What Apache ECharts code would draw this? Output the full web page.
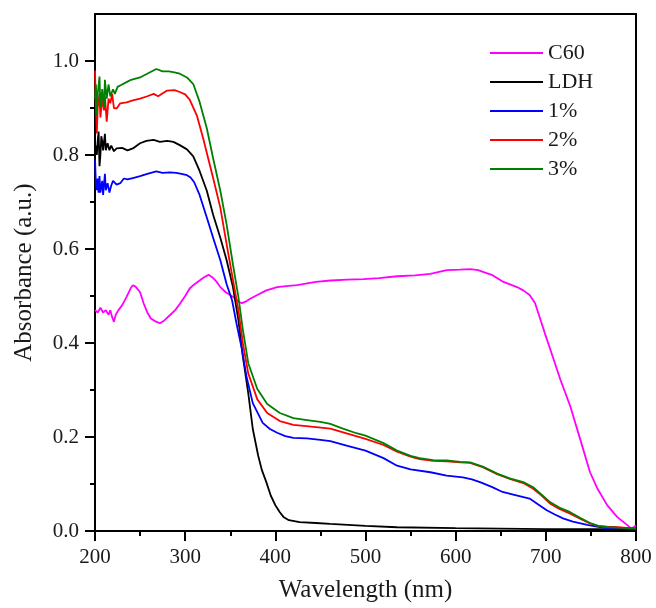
<!DOCTYPE html>
<html>
<head>
<meta charset="utf-8">
<script src="https://cdn.jsdelivr.net/npm/echarts@6/dist/echarts.min.js"></script>
<style>
  html, body { margin: 0; padding: 0; background: #fff; }
  #chart { width: 656px; height: 608px; }
</style>
</head>
<body>
<div id="chart"></div>
<script>
// UV-Vis absorbance spectra: [wavelength (nm), absorbance (a.u.)]
const c60 = [[200,0.47],[203,0.465],[206,0.475],[209,0.465],[212,0.47],[215,0.46],[217,0.47],[219,0.455],[221,0.445],[223,0.46],[226,0.47],[230,0.48],[235,0.498],[240,0.518],[242,0.523],[245,0.52],[250,0.508],[254,0.484],[258,0.465],[262,0.452],[267,0.446],[272,0.442],[277,0.448],[283,0.459],[289,0.47],[294,0.483],[300,0.5],[305,0.516],[309,0.523],[316,0.533],[321,0.54],[326,0.545],[330,0.54],[335,0.53],[339,0.519],[345,0.508],[350,0.502],[356,0.494],[360,0.487],[363,0.485],[367,0.488],[372,0.494],[380,0.502],[390,0.512],[402,0.519],[412,0.521],[424,0.523],[445,0.53],[461,0.533],[480,0.535],[498,0.536],[515,0.538],[535,0.542],[555,0.544],[572,0.547],[590,0.555],[605,0.556],[616,0.557],[625,0.555],[631,0.551],[640,0.545],[653,0.53],[668,0.519],[675,0.512],[682,0.502],[688,0.485],[693,0.456],[699,0.42],[705,0.386],[716,0.323],[727,0.266],[738,0.196],[749,0.125],[757,0.091],[768,0.055],[779,0.03],[790,0.013],[795,0.005],[800,0.012]];

const ldh = [[200,0.80],[201,0.82],[202,0.80],[203,0.83],[204,0.85],[205,0.776],[206,0.80],[207,0.84],[208,0.83],[209,0.81],[211,0.845],[212,0.81],[214,0.825],[216,0.81],[218,0.82],[221,0.808],[224,0.814],[230,0.815],[236,0.81],[242,0.814],[250,0.825],[257,0.83],[265,0.832],[272,0.828],[280,0.83],[287,0.828],[294,0.821],[302,0.812],[309,0.797],[316,0.766],[324,0.724],[331,0.673],[339,0.624],[346,0.576],[353,0.519],[359,0.449],[364,0.371],[370,0.293],[375,0.217],[381,0.16],[385,0.13],[390,0.104],[395,0.075],[400,0.055],[405,0.04],[409,0.03],[415,0.023],[427,0.019],[445,0.017],[461,0.015],[500,0.011],[535,0.008],[600,0.006],[650,0.005],[700,0.004],[750,0.004],[800,0.004]];

const pct1 = [[200,0.79],[201,0.74],[202,0.725],[203,0.75],[204,0.72],[205,0.755],[206,0.72],[208,0.745],[209,0.715],[211,0.76],[212,0.725],[214,0.74],[216,0.72],[218,0.735],[220,0.745],[224,0.737],[228,0.74],[232,0.75],[236,0.748],[242,0.751],[250,0.755],[258,0.76],[268,0.765],[275,0.762],[283,0.763],[290,0.762],[296,0.76],[302,0.757],[306,0.752],[310,0.742],[316,0.715],[324,0.667],[331,0.624],[339,0.576],[346,0.525],[352,0.491],[357,0.441],[363,0.386],[368,0.329],[375,0.272],[386,0.23],[394,0.217],[402,0.209],[411,0.202],[420,0.198],[435,0.197],[450,0.194],[461,0.191],[480,0.181],[500,0.171],[520,0.155],[535,0.139],[550,0.131],[572,0.125],[590,0.118],[608,0.114],[618,0.11],[627,0.104],[640,0.094],[652,0.083],[665,0.077],[682,0.069],[692,0.056],[701,0.044],[710,0.035],[719,0.027],[730,0.02],[746,0.013],[758,0.009],[768,0.006],[780,0.005],[800,0.004]];

const pct2 = [[200,0.98],[201,0.90],[202,0.846],[203,0.90],[205,0.93],[206,0.88],[208,0.92],[210,0.895],[211,0.925],[213,0.871],[215,0.92],[217,0.91],[219,0.93],[221,0.90],[224,0.899],[228,0.91],[235,0.912],[242,0.916],[250,0.92],[258,0.925],[265,0.93],[270,0.925],[280,0.937],[288,0.938],[294,0.934],[300,0.929],[305,0.918],[313,0.884],[320,0.835],[331,0.751],[339,0.688],[346,0.61],[353,0.534],[359,0.47],[364,0.399],[370,0.335],[380,0.28],[391,0.251],[405,0.234],[420,0.226],[440,0.222],[461,0.218],[480,0.207],[500,0.196],[520,0.183],[535,0.169],[550,0.158],[560,0.153],[575,0.149],[590,0.148],[605,0.146],[616,0.145],[630,0.136],[646,0.121],[660,0.111],[675,0.102],[686,0.09],[695,0.076],[705,0.058],[715,0.047],[727,0.037],[738,0.026],[749,0.016],[758,0.011],[768,0.009],[780,0.008],[793,0.006],[800,0.006]];

const pct3 = [[200,0.92],[201,0.95],[202,0.885],[203,0.93],[205,0.967],[206,0.90],[208,0.94],[210,0.90],[211,0.96],[213,0.92],[215,0.95],[217,0.925],[220,0.94],[222,0.93],[225,0.945],[230,0.95],[235,0.955],[240,0.96],[250,0.965],[260,0.975],[268,0.983],[275,0.978],[282,0.978],[288,0.976],[294,0.973],[302,0.965],[309,0.951],[316,0.913],[324,0.857],[331,0.793],[339,0.724],[346,0.652],[353,0.567],[359,0.498],[364,0.428],[370,0.357],[380,0.302],[391,0.27],[405,0.251],[420,0.24],[435,0.236],[450,0.232],[461,0.228],[475,0.218],[490,0.208],[500,0.203],[520,0.187],[535,0.171],[550,0.16],[560,0.155],[575,0.151],[590,0.15],[605,0.147],[616,0.146],[630,0.137],[646,0.122],[660,0.112],[675,0.104],[686,0.093],[695,0.078],[705,0.061],[715,0.05],[727,0.04],[738,0.028],[749,0.017],[758,0.011],[768,0.008],[780,0.007],[793,0.006],[800,0.005]];

const seriesNames = ['C60', 'LDH', '1%', '2%', '3%'];
const seriesData = [c60, ldh, pct1, pct2, pct3];
const seriesColors = ['#ff00ff', '#000000', '#0000ff', '#ff0000', '#008000'];

const yMajorTicks = [0, 0.2, 0.4, 0.6, 0.8, 1.0];
const yMinorTicks = [0.1, 0.3, 0.5, 0.7, 0.9];

const FONT = '"Liberation Serif", "Times New Roman", serif';

const chart = echarts.init(document.getElementById('chart'), null, { renderer: 'canvas' });

chart.setOption({
  animation: false,
  backgroundColor: '#ffffff',
  grid: {
    left: 95, right: 20, top: 14, bottom: 72,
    show: true, borderColor: '#000', borderWidth: 2, backgroundColor: 'transparent'
  },
  legend: {
    orient: 'vertical',
    left: 490, top: 42,
    itemWidth: 53, itemHeight: 14, itemGap: 7,
    padding: 0,
    icon: 'path://M0,6 L53,6 L53,8 L0,8 Z',
    data: seriesNames,
    textStyle: { fontFamily: FONT, fontSize: 22, color: '#1a1a1a' }
  },
  xAxis: {
    type: 'value', min: 200, max: 800, interval: 100,
    name: 'Wavelength (nm)', nameLocation: 'middle', nameGap: 47,
    nameTextStyle: { fontFamily: FONT, fontSize: 25, color: '#1a1a1a' },
    axisLine: { show: true, onZero: false, lineStyle: { color: '#000', width: 2 } },
    axisTick: { show: true, length: 10, lineStyle: { color: '#000', width: 2 } },
    minorTick: { show: true, splitNumber: 2, length: 5, lineStyle: { color: '#000', width: 2 } },
    axisLabel: { fontFamily: FONT, fontSize: 21, color: '#1a1a1a', margin: 16 },
    splitLine: { show: false }
  },
  yAxis: [{
    type: 'value', min: 0, max: 1.1, position: 'left',
    name: 'Absorbance (a.u.)', nameLocation: 'middle', nameGap: 58,
    nameTextStyle: { fontFamily: FONT, fontSize: 25, color: '#1a1a1a' },
    axisLine: { show: true, onZero: false, lineStyle: { color: '#000', width: 2 } },
    axisTick: { show: true, length: 10, customValues: yMajorTicks, lineStyle: { color: '#000', width: 2 } },
    axisLabel: {
      fontFamily: FONT, fontSize: 21, color: '#1a1a1a', margin: 16,
      customValues: yMajorTicks,
      formatter: v => v.toFixed(1)
    },
    splitLine: { show: false }
  }, {
    type: 'value', min: 0, max: 1.1, position: 'left',
    axisLine: { show: false },
    axisTick: { show: true, length: 5, customValues: yMinorTicks, lineStyle: { color: '#000', width: 2 } },
    axisLabel: { show: false },
    splitLine: { show: false }
  }],
  series: seriesNames.map((name, i) => ({
    name,
    type: 'line',
    data: seriesData[i],
    yAxisIndex: 0,
    symbol: 'none',
    smooth: false,
    lineStyle: { color: seriesColors[i], width: 1.8 },
    itemStyle: { color: seriesColors[i] },
    z: 2 + i
  }))
});
</script>
</body>
</html>
